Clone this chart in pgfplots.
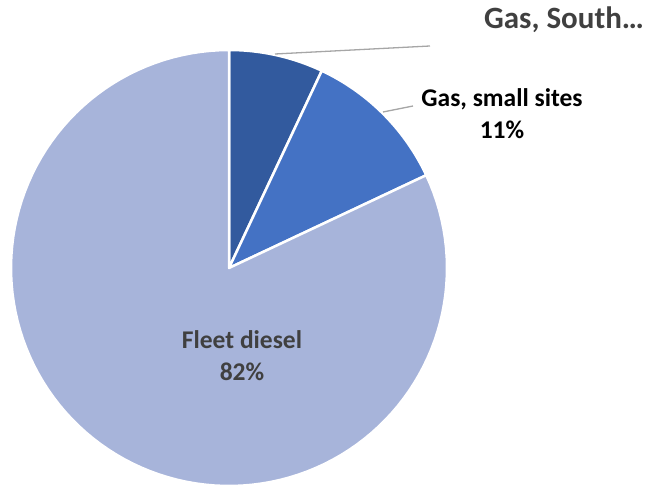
\documentclass[border=0pt]{standalone}
\usepackage{pgfplots}
\usepackage{pgfplotstable}
\pgfplotsset{compat=1.18}
\usepackage{fontspec}
\setmainfont{Carlito}

\definecolor{sliceA}{HTML}{325A9E}
\definecolor{sliceB}{HTML}{4472C4}
\definecolor{sliceC}{HTML}{A7B4DA}
\definecolor{labgray}{HTML}{404040}
\definecolor{leader}{HTML}{A6A6A6}

% share of each slice, in percent, clockwise from 12 o'clock
\pgfplotstableread{
name value
South 7
Small 11
Fleet 82
}\piedata

\begin{document}
\begin{tikzpicture}
\useasboundingbox (0,0) rectangle (652pt,486pt);
\pgfplotstablegetelem{0}{value}\of\piedata \pgfmathsetmacro\va{\pgfplotsretval}
\pgfplotstablegetelem{1}{value}\of\piedata \pgfmathsetmacro\vb{\pgfplotsretval}
\pgfplotstablegetelem{2}{value}\of\piedata \pgfmathsetmacro\vc{\pgfplotsretval}
\pgfmathsetmacro\azero{90}
\pgfmathsetmacro\aone{\azero-3.6*\va}
\pgfmathsetmacro\atwo{\aone-3.6*\vb}
\pgfmathsetmacro\athree{\atwo-3.6*\vc}
\begin{axis}[
    at={(0,0)}, anchor=origin,
    scale only axis,
    width=652pt, height=486pt,
    xmin=0, xmax=652, ymin=0, ymax=486,
    hide axis, clip=false,
    samples=120, variable=\t,
    every axis plot/.append style={draw=white, line width=2.5pt, line join=round},
]
\addplot[fill=sliceA, domain=\aone:\azero]
    ({229+218*cos(\t)},{218+218*sin(\t)}) -- (axis cs:229,218) -- cycle;
\addplot[fill=sliceB, domain=\atwo:\aone]
    ({229+218*cos(\t)},{218+218*sin(\t)}) -- (axis cs:229,218) -- cycle;
\addplot[fill=sliceC, domain=\athree:\atwo]
    ({229+218*cos(\t)},{218+218*sin(\t)}) -- (axis cs:229,218) -- cycle;

% leader lines
\draw[leader, line width=1.3pt] (axis cs:275,432) -- (axis cs:430,440);
\draw[leader, line width=1.3pt] (axis cs:383,374) -- (axis cs:413,380);

% labels
\node[font=\fontsize{31}{36}\selectfont\bfseries, text=labgray] at (axis cs:564,466) {Gas, South…};
\node[font=\fontsize{25.5}{30}\selectfont\bfseries, text=black, align=center] at (axis cs:502,372)
    {Gas, small sites\\[2pt]\pgfmathprintnumber[assume math mode=true]{\vb}\%};
\node[font=\fontsize{25.5}{30}\selectfont\bfseries, text=labgray, align=center] at (axis cs:242,130)
    {Fleet diesel\\[2pt]\pgfmathprintnumber[assume math mode=true]{\vc}\%};
\end{axis}
\end{tikzpicture}
\end{document}
